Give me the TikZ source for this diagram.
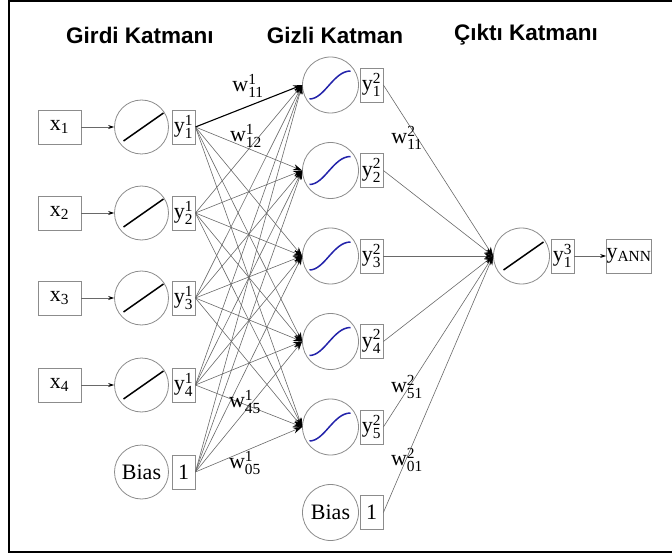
\documentclass[tikz,border=0pt]{standalone}
\usepackage{amsmath}
\usepackage{fontspec}
\setmainfont{Liberation Serif}
\newfontfamily\titlefont{Liberation Sans}
\usetikzlibrary{arrows.meta,calc}
\definecolor{edgegray}{RGB}{105,105,105}
\definecolor{shapegray}{RGB}{140,140,140}
\definecolor{sigblue}{RGB}{35,35,170}
\newcommand\vv[3]{#1$^{\text{#3}}_{\text{#2}}$}
\begin{document}
\begin{tikzpicture}[x=1pt,y=-1pt,
  font=\fontsize{22}{25}\selectfont,
  neuron/.style={circle, draw=shapegray, line width=0.8pt, minimum size=54pt, inner sep=0pt},
  valbox/.style={rectangle, draw=shapegray, line width=0.8pt, minimum width=23pt, minimum height=34pt, inner sep=0pt},
  inbox/.style={rectangle, draw=shapegray, line width=0.8pt, minimum width=43pt, minimum height=34pt, inner sep=0pt},
  conn/.style={draw=edgegray, line width=0.6pt, -{Stealth[length=9pt,width=6pt,color=black]}},
  strong/.style={draw=black, line width=1.1pt},
  inarrow/.style={draw=edgegray, line width=0.7pt, -{Stealth[length=6pt,width=4pt,color=black]}},
  linfn/.style={draw=black, line width=1.5pt},
  sigfn/.style={draw=sigblue, line width=1.5pt},
  wlab/.style={inner sep=0pt},
  titlelab/.style={font=\titlefont\bfseries\fontsize{22.5}{25}\selectfont}
]
\useasboundingbox (0,0) rectangle (672,556);
\draw[line width=2pt] (672,1) -- (9,1) -- (9,552) -- (672,552);

% titles
\node[titlelab] (t1) at (140,35) {Girdi Katmanı};
\node[titlelab] (t2) at (335,35) {Gizli Katman};
\node[titlelab] (t3) at (526,35) {Çıktı Katmanı};

% input layer
\foreach \i/\yy in {1/127,2/213,3/298,4/385} {
  \node[inbox] (x\i) at (59.5,\yy) {x$_{\text{\i}}$};
  \node[neuron] (a\i) at (141.5,\yy) {};
  \node[valbox] (y\i) at (183.5,\yy) {\vv{y}{\i}{1}};
  \draw[inarrow] (x\i) -- (a\i);
  \draw[linfn] ($(a\i)+(-18,14)$) -- ($(a\i)+(22,-14)$);
}
\node[neuron] (a0) at (141.5,472) {Bias};
\node[valbox] (y0) at (183.5,472) {1};

% hidden layer
\foreach \j/\yy in {1/85,2/170.5,3/256,4/341.5,5/427} {
  \node[neuron, minimum size=56pt] (h\j) at (330.5,\yy) {};
  \node[valbox] (z\j) at (371.5,\yy) {\vv{y}{\j}{2}};
  \draw[sigfn] ($(h\j)+(-21,14)$) .. controls ($(h\j)+(-6,14)$) and ($(h\j)+(3,-14)$) .. ($(h\j)+(20,-14)$);
}
\node[neuron, minimum size=56pt] (h0) at (330.5,512.5) {Bias};
\node[valbox] (z0) at (371.5,512.5) {1};

% output layer
\node[neuron, minimum size=56pt] (o) at (521.5,256) {};
\draw[linfn] ($(o)+(-18,14)$) -- ($(o)+(22,-14)$);
\node[valbox] (zo) at (562.5,256) {\vv{y}{1}{3}};
\node[inbox, minimum width=42pt] (ya) at (629,256) {y$_{\text{ANN}}$};
\draw[inarrow] (zo) -- (ya);

% connections input -> hidden
\foreach \i in {0,...,4} {
  \foreach \j in {1,...,5} {
    \ifnum\i\j=11
      \draw[conn,strong] (y\i.east) -- (h\j.west);
    \else
      \draw[conn] (y\i.east) -- (h\j.west);
    \fi
  }
}
% connections hidden -> output
\foreach \j in {0,...,5} {
  \draw[conn] (z\j.east) -- (o.west);
}

% weight labels
\node[wlab] (w111) at (248,86) {\vv{w}{11}{1}};
\node[wlab] (w112) at (246,136) {\vv{w}{12}{1}};
\node[wlab] (w145) at (245,402) {\vv{w}{45}{1}};
\node[wlab] (w105) at (245,463) {\vv{w}{05}{1}};
\node[wlab] (w211) at (407,138) {\vv{w}{11}{2}};
\node[wlab] (w251) at (407,387) {\vv{w}{51}{2}};
\node[wlab] (w201) at (407,460) {\vv{w}{01}{2}};
\end{tikzpicture}
\end{document}
